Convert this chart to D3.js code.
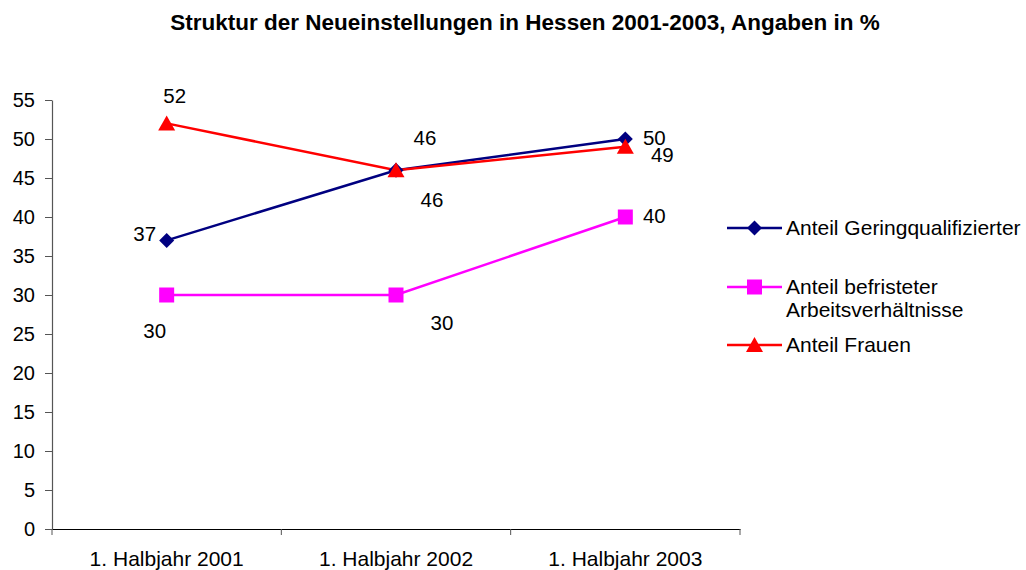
<!DOCTYPE html>
<html>
<head>
<meta charset="utf-8">
<script src="https://cdn.jsdelivr.net/npm/d3@7"></script>
<style>
  body { margin: 0; background: #fff; }
  svg { font-family: "Liberation Sans", Arial, sans-serif; }
</style>
</head>
<body>
<svg id="chart" width="1026" height="570"></svg>
<script>
// Data
const categories = ['1. Halbjahr 2001', '1. Halbjahr 2002', '1. Halbjahr 2003'];
const geringqualifizierte = [37, 46, 50];
const befristete = [30, 30, 40];
const frauen = [52, 46, 49];
const yTicks = [0, 5, 10, 15, 20, 25, 30, 35, 40, 45, 50, 55];

const series = [
    { name: ['Anteil Geringqualifizierter'], values: geringqualifizierte, color: '#000080', marker: 'diamond',
      // label offsets relative to the point (layout only)
      labelDx: [-22, 29, 29], labelDy: [-7, -32, -1] },
    { name: ['Anteil befristeter', 'Arbeitsverhältnisse'], values: befristete, color: '#FF00FF', marker: 'square',
      labelDx: [-12, 46, 29], labelDy: [36, 28, -1] },
    { name: ['Anteil Frauen'], values: frauen, color: '#FF0000', marker: 'triangle',
      labelDx: [8, 36, 37], labelDy: [-28, 30, 8] }
];

const svg = d3.select('#chart');
const margin = { left: 52, right: 286, top: 100, bottom: 41 };
const width = 1026, height = 570;

const x = d3.scaleBand()
    .domain(categories)
    .range([margin.left, width - margin.right]);

const y = d3.scaleLinear()
    .domain([0, 55])
    .range([height - margin.bottom, margin.top]);

// Title
svg.append('text')
    .attr('x', 525)
    .attr('y', 30)
    .attr('text-anchor', 'middle')
    .style('font-size', '22.5px')
    .style('font-weight', 'bold')
    .text('Struktur der Neueinstellungen in Hessen 2001-2003, Angaben in %');

// Axes
const yAxis = svg.append('g')
    .attr('transform', `translate(${margin.left},0)`)
    .call(d3.axisLeft(y).tickValues(yTicks).tickSize(7).tickPadding(10).tickSizeOuter(0));
yAxis.select('.domain').attr('stroke', '#555').attr('stroke-width', 1.2);
yAxis.selectAll('line').attr('stroke', '#555');
yAxis.selectAll('text').style('font-size', '20px').style('fill', '#000');

const xAxis = svg.append('g')
    .attr('transform', `translate(0,${y(0)})`)
    .call(d3.axisBottom(x).tickSize(0).tickPadding(22));
xAxis.select('.domain').attr('stroke', '#000').attr('stroke-width', 1.2);
xAxis.selectAll('text').style('font-size', '21px').style('fill', '#000');

// category boundary ticks
const bounds = [0, 1, 2, 3].map(i => margin.left + i * x.bandwidth());
xAxis.selectAll('.bound')
    .data(bounds)
    .enter().append('line')
    .attr('x1', d => d).attr('x2', d => d)
    .attr('y1', 0).attr('y2', 6)
    .attr('stroke', '#555');

const cx = c => x(c) + x.bandwidth() / 2;

function markerPath(type) {
    if (type === 'diamond') return 'M0,-7.5L7.5,0L0,7.5L-7.5,0Z';
    if (type === 'square') return 'M-7.5,-7.5H7.5V7.5H-7.5Z';
    return 'M0,-8L8.5,7L-8.5,7Z';
}

const line = d3.line()
    .x((d, i) => cx(categories[i]))
    .y(d => y(d));

series.forEach(s => {
    svg.append('path')
        .attr('d', line(s.values))
        .attr('fill', 'none')
        .attr('stroke', s.color)
        .attr('stroke-width', 2.5);
});

series.forEach(s => {
    s.values.forEach((v, i) => {
        svg.append('path')
            .attr('d', markerPath(s.marker))
            .attr('transform', `translate(${cx(categories[i])},${y(v)})`)
            .attr('fill', s.color);
    });
});

// Data labels
series.forEach(s => {
    s.values.forEach((v, i) => {
        svg.append('text')
            .attr('x', cx(categories[i]) + s.labelDx[i])
            .attr('y', y(v) + s.labelDy[i])
            .attr('dy', '0.35em')
            .attr('text-anchor', 'middle')
            .style('font-size', '20.5px')
            .text(v);
    });
});

// Legend
const legendY = [228, 287, 345];
series.forEach((s, i) => {
    const g = svg.append('g').attr('transform', `translate(727,${legendY[i]})`);
    g.append('line')
        .attr('x1', 0).attr('x2', 55)
        .attr('stroke', s.color)
        .attr('stroke-width', 2.5);
    g.append('path')
        .attr('d', markerPath(s.marker))
        .attr('transform', 'translate(27.5,0)')
        .attr('fill', s.color);
    s.name.forEach((t, j) => {
        g.append('text')
            .attr('x', 59)
            .attr('y', j * 23)
            .attr('dy', '0.35em')
            .style('font-size', '21px')
            .text(t);
    });
});
</script>
</body>
</html>
